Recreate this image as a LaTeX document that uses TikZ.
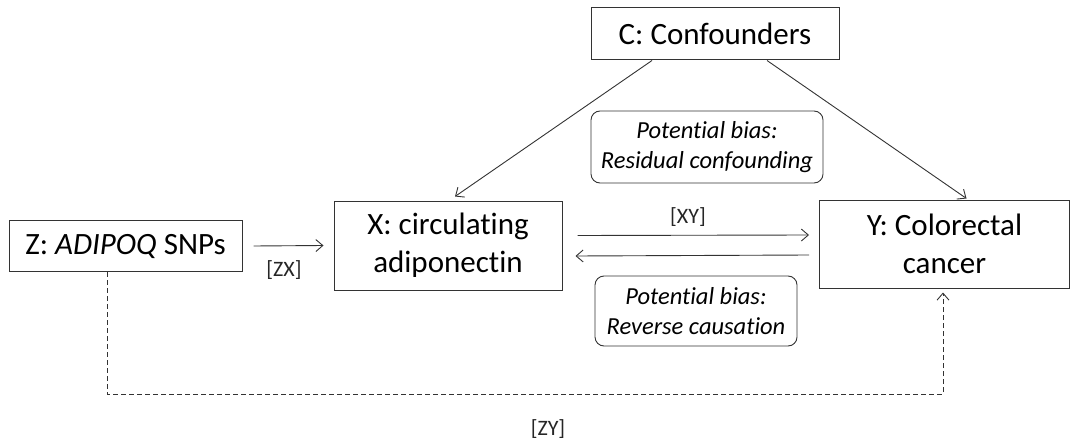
\documentclass[tikz,border=0pt]{standalone}
\usepackage{fontspec}
\setmainfont[Ligatures=NoCommon]{Carlito}
\usetikzlibrary{arrows.meta}
\begin{document}
\begin{tikzpicture}[x=1pt,y=-1pt,
  box/.style={draw=black!80, line width=1pt, fill=white, inner sep=0pt, align=center,
    font=\fontsize{31}{38}\selectfont},
  biasbox/.style={draw=black!80, line width=0.9pt, rounded corners=9pt, inner sep=0pt, align=center,
    font=\fontsize{24.5}{30}\selectfont\itshape},
  lbl/.style={font=\fontsize{22}{24}\selectfont, text=black!85},
  arr/.style={draw=black!80, line width=0.9pt, -{Straight Barb[length=7pt,width=12pt]}},
  darr/.style={arr, dash pattern=on 5pt off 3pt}]
\useasboundingbox (0,0) rectangle (1070,441);
\node[box, minimum width=233pt, minimum height=51pt] (Z) at (125.5,246) {Z: \textit{ADIPOQ} SNPs};
\node[box, minimum width=228pt, minimum height=89pt] (X) at (448,245.5) {X: circulating\\adiponectin};
\node[box, minimum width=250pt, minimum height=88pt] (Y) at (944.5,244) {Y: Colorectal\\cancer};
\node[box, minimum width=248pt, minimum height=52pt] (C) at (715,34) {C: Confounders};
\node[biasbox, minimum width=232pt, minimum height=72pt] (B1) at (707,147) {Potential bias:\\Residual confounding};
\node[biasbox, minimum width=202pt, minimum height=70pt] (B2) at (696,311) {Potential bias:\\Reverse causation};
\draw[arr] ([xshift=11pt]Z.east) -- ([xshift=-10pt]X.west);
\node[lbl] (lzx) at (284,270) {[ZX]};
\draw[arr] ([xshift=15pt,yshift=10pt]X.east) -- ([xshift=-10pt,yshift=9pt]Y.west);
\draw[arr] ([xshift=-10pt,yshift=-11pt]Y.west) -- ([xshift=13pt,yshift=-10.5pt]X.east);
\node[lbl] (lxy) at (688,217) {[XY]};
\draw[arr] ([xshift=-63pt]C.south) -- ([xshift=7pt,yshift=4pt]X.north);
\draw[arr] ([xshift=52pt]C.south) -- ([xshift=22pt,yshift=1pt]Y.north);
\coordinate (dc1) at (107,394);
\coordinate (dc2) at (943,394);
\draw[darr] ([xshift=-18.5pt]Z.south) -- (dc1) -- (dc2) -- ([xshift=-1.5pt,yshift=-4pt]Y.south);
\node[lbl] (lzy) at (548,429) {[ZY]};
\end{tikzpicture}
\end{document}
